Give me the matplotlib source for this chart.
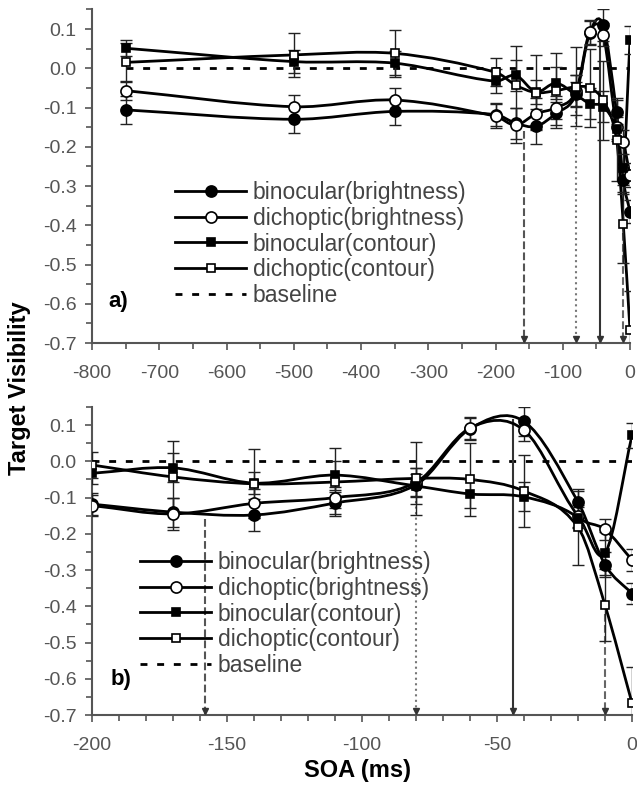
import numpy as np
import matplotlib
matplotlib.use('Agg')
import matplotlib.pyplot as plt
import matplotlib.transforms as mtransforms
from matplotlib.path import Path
from matplotlib.patches import PathPatch
from matplotlib.lines import Line2D
from matplotlib.ticker import MultipleLocator, FuncFormatter

plt.rcParams['font.family'] = ['Liberation Sans', 'DejaVu Sans']
plt.rcParams['axes.unicode_minus'] = False

# SOA values (ms) and target visibility per condition
soa = [-750, -500, -350, -200, -170, -140, -110, -80, -60, -40, -20, -10, 0]

bin_bright = [-0.106, -0.130, -0.110, -0.118, -0.140, -0.148, -0.115, -0.065, 0.090, 0.110, -0.112, -0.285, -0.365]
bin_bright_err = [0.035, 0.035, 0.035, 0.030, 0.040, 0.045, 0.030, 0.030, 0.030, 0.040, 0.030, 0.035, 0.030]

dich_bright = [-0.057, -0.098, -0.081, -0.122, -0.145, -0.116, -0.100, -0.058, 0.092, 0.086, -0.150, -0.188, -0.272]
dich_bright_err = [0.025, 0.030, 0.030, 0.030, 0.045, 0.040, 0.030, 0.040, 0.030, 0.030, 0.030, 0.030, 0.030]

bin_contour = [0.051, 0.017, 0.013, -0.033, -0.018, -0.060, -0.038, -0.068, -0.090, -0.098, -0.155, -0.254, 0.072]
bin_contour_err = [0.020, 0.030, 0.030, 0.030, 0.040, 0.030, 0.040, 0.050, 0.040, 0.040, 0.030, 0.060, 0.035]

dich_contour = [0.015, 0.034, 0.038, -0.010, -0.043, -0.062, -0.057, -0.047, -0.050, -0.082, -0.182, -0.397, -0.667]
dich_contour_err = [0.050, 0.057, 0.060, 0.035, 0.100, 0.095, 0.095, 0.100, 0.100, 0.100, 0.105, 0.100, 0.100]

labels = ['binocular(brightness)', 'dichoptic(brightness)', 'binocular(contour)', 'dichoptic(contour)', 'baseline']

# vertical reference arrows (SOA, where they start)
arrow_soa = [-158, -80, -44, -10]
arrow_top = [-0.16, -0.08, 0.115, -0.42]
arrow_style = ['--', ':', '-', '--']
arrow_color = ['#555555', '#777777', '#333333', '#666666']


def smooth_path(xs, ys):
    # cubic Hermite curve through the points, drawn as bezier segments
    xs = np.asarray(xs, float)
    ys = np.asarray(ys, float)
    n = len(xs)
    m = np.zeros(n)
    for i in range(n):
        a = max(i - 1, 0)
        b = min(i + 1, n - 1)
        m[i] = (ys[b] - ys[a]) / (xs[b] - xs[a])
    verts = [(xs[0], ys[0])]
    codes = [Path.MOVETO]
    for i in range(n - 1):
        h = (xs[i + 1] - xs[i]) / 3.0
        verts += [(xs[i] + h, ys[i] + m[i] * h),
                  (xs[i + 1] - h, ys[i + 1] - m[i + 1] * h),
                  (xs[i + 1], ys[i + 1])]
        codes += [Path.CURVE4] * 3
    return Path(verts, codes)


series = [
    (bin_bright, bin_bright_err, 'o', 'black', 8),
    (dich_bright, dich_bright_err, 'o', 'white', 8),
    (bin_contour, bin_contour_err, 's', 'black', 5.5),
    (dich_contour, dich_contour_err, 's', 'white', 5.5),
]

fig = plt.figure(figsize=(6.37, 7.89), dpi=100)
W, H = 637.0, 789.0
ax_a = fig.add_axes([92 / W, 1 - 343 / H, (630 - 92) / W, (343 - 9.4) / H])
ax_b = fig.add_axes([92 / W, 1 - 715 / H, (632 - 92) / W, (715 - 407) / H])


def draw_panel(ax, start, xlim, xmajor, xminor):
    x = soa[start:]
    ax.plot([x[0], 0], [0, 0], color='black', lw=2, dashes=(2.5, 3.5), zorder=2)
    for vals, errs, mk, fc, ms in series:
        v = vals[start:]
        e = errs[start:]
        ax.add_patch(PathPatch(smooth_path(x, v), fill=False, ec='black', lw=2, zorder=3))
        ax.errorbar(x, v, yerr=e, fmt='none', ecolor='#222222', elinewidth=1, capsize=4,
                    capthick=1, zorder=4)
        ax.plot(x, v, ls='none', marker=mk, ms=ms, mfc=fc, mec='black', mew=1.2, zorder=5)
    # reference arrows to the x axis
    head = mtransforms.offset_copy(ax.transData, fig=fig, y=3, units='points')
    for sx, top, ls, c in zip(arrow_soa, arrow_top, arrow_style, arrow_color):
        ax.plot([sx, sx], [top, -0.7], ls=ls, color=c, lw=1.5, zorder=2)
        ax.plot(sx, -0.7, marker='v', ms=5, color='#333333', transform=head, zorder=6, clip_on=False)

    ax.set_xlim(*xlim)
    ax.set_ylim(-0.7, 0.15)
    for s in ['top', 'right']:
        ax.spines[s].set_visible(False)
    for s in ['left', 'bottom']:
        ax.spines[s].set_color('#555555')
        ax.spines[s].set_linewidth(1.5)
    ax.xaxis.set_major_locator(MultipleLocator(xmajor))
    ax.xaxis.set_minor_locator(MultipleLocator(xminor))
    ax.set_yticks(np.arange(-0.7, 0.11, 0.1))
    ax.yaxis.set_minor_locator(MultipleLocator(0.05))
    ax.yaxis.set_major_formatter(FuncFormatter(lambda v, p: f'{round(v, 1) + 0:.1f}'))
    ax.tick_params(which='both', direction='out', color='#555555', width=1.2, labelcolor='#555555',
                   labelsize=14)
    ax.tick_params(which='major', length=5)
    ax.tick_params(which='minor', length=4)
    ax.tick_params(axis='x', pad=11)
    ax.tick_params(axis='y', pad=6)


draw_panel(ax_a, 0, (-800, 0), 100, 50)
draw_panel(ax_b, 3, (-200, 0), 50, 10)

handles = []
for vals, errs, mk, fc, ms in series:
    handles.append(Line2D([], [], color='black', lw=2, marker=mk, ms=ms, mfc=fc, mec='black', mew=1.2))
handles.append(Line2D([], [], color='black', lw=2, dashes=(2.5, 3.5)))

for ax, lx, ly in [(ax_a, 175, 181), (ax_b, 140, 551)]:
    leg = ax.legend(handles, labels, loc='upper left', bbox_to_anchor=(lx / W, 1 - ly / H),
                    bbox_transform=fig.transFigure, frameon=False, fontsize=16.5,
                    handlelength=3.1, handletextpad=0.3, labelspacing=0.12, borderpad=0,
                    borderaxespad=0)
    for t in leg.get_texts():
        t.set_color('#444444')

fig.text(118 / W, 1 - 301 / H, 'a)', fontsize=16, fontweight='bold', ha='center', va='center')
fig.text(121 / W, 1 - 680 / H, 'b)', fontsize=16, fontweight='bold', ha='center', va='center')
fig.text(20 / W, 1 - 388 / H, 'Target Visibility', fontsize=17, fontweight='bold', rotation=90,
         ha='center', va='center')
fig.text(357 / W, 1 - 770 / H, 'SOA (ms)', fontsize=17, fontweight='bold', ha='center', va='center')

fig.savefig('out.png', dpi=100)
